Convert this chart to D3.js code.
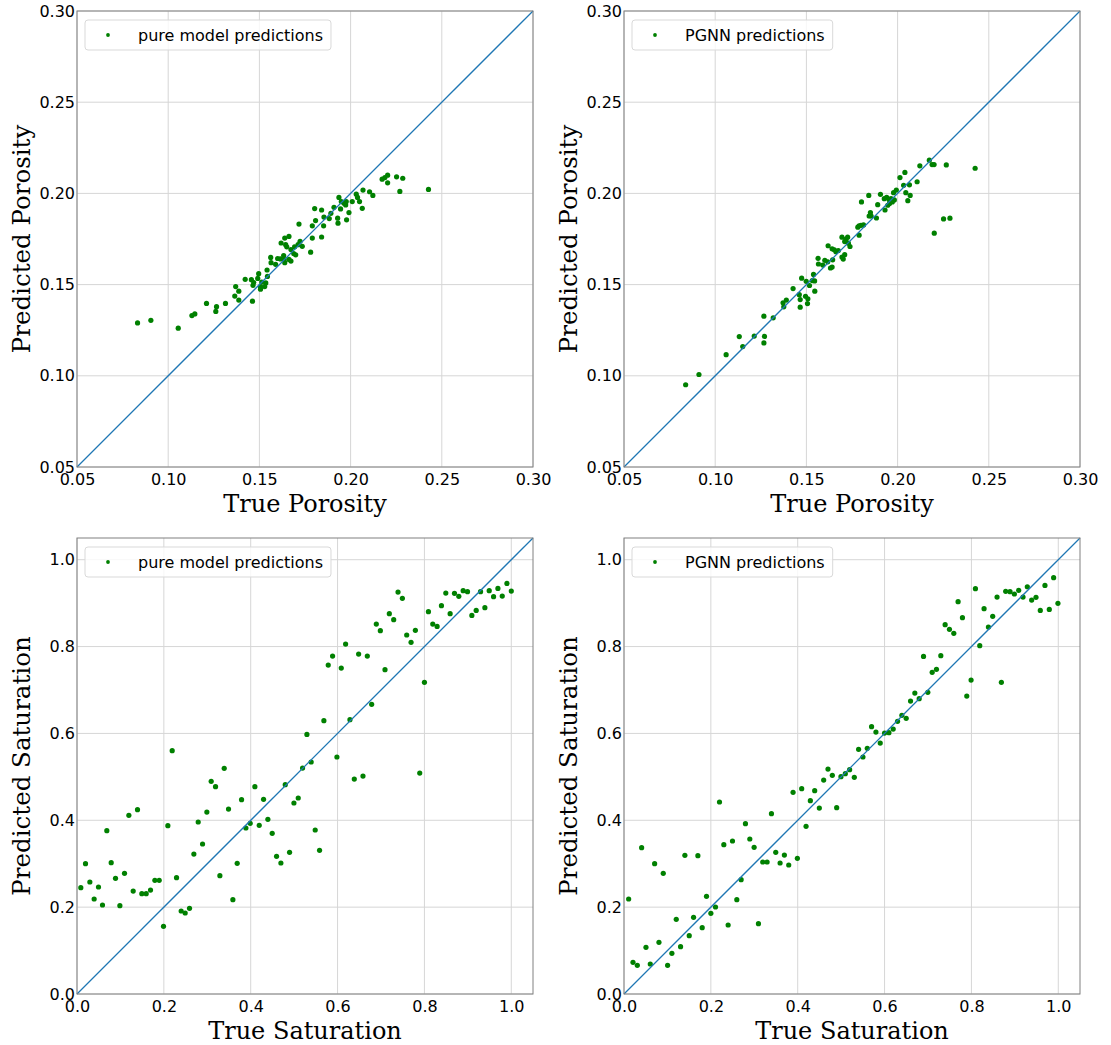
<!DOCTYPE html>
<html>
<head>
<meta charset="utf-8">
<script src="https://cdn.jsdelivr.net/npm/d3@7"></script>
<style>
  html, body { margin: 0; padding: 0; background: #fff; }
  svg { display: block; }
</style>
</head>
<body>
<svg id="chart" width="1111" height="1045"></svg>
<script>
// Porosity: [true, predicted] pairs
const porosityPureModel = [
  [0.0832,0.1290],[0.0905,0.1304],[0.1055,0.1261],[0.1130,0.1330],[0.1146,0.1339],[0.1210,0.1397],
  [0.1265,0.1379],[0.1261,0.1353],[0.1314,0.1397],[0.1370,0.1489],[0.1387,0.1464],[0.1365,0.1437],
  [0.1387,0.1415],[0.1422,0.1529],[0.1462,0.1409],[0.1456,0.1527],[0.1469,0.1511],[0.1465,0.1496],
  [0.1496,0.1560],[0.1491,0.1534],[0.1513,0.1514],[0.1535,0.1509],[0.1506,0.1489],[0.1506,0.1475],
  [0.1529,0.1489],[0.1542,0.1580],[0.1544,0.1545],[0.1562,0.1649],[0.1564,0.1620],[0.1589,0.1611],
  [0.1600,0.1643],[0.1615,0.1641],[0.1633,0.1659],[0.1635,0.1638],[0.1639,0.1620],[0.1619,0.1728],
  [0.1639,0.1755],[0.1662,0.1764],[0.1644,0.1719],[0.1650,0.1707],[0.1673,0.1692],[0.1673,0.1629],
  [0.1688,0.1670],[0.1699,0.1663],[0.1693,0.1707],[0.1712,0.1719],[0.1723,0.1737],[0.1735,0.1710],
  [0.1717,0.1832],[0.1781,0.1678],[0.1790,0.1755],[0.1790,0.1822],[0.1808,0.1851],[0.1803,0.1917],
  [0.1841,0.1909],[0.1841,0.1761],[0.1852,0.1822],[0.1854,0.1870],[0.1883,0.1862],[0.1892,0.1891],
  [0.1909,0.1924],[0.1929,0.1864],[0.1931,0.1837],[0.1936,0.1978],[0.1945,0.1915],[0.1949,0.1955],
  [0.1964,0.1946],[0.1973,0.1937],[0.1976,0.1955],[0.1991,0.1895],[0.1978,0.1855],[0.2009,0.1955],
  [0.2031,0.1996],[0.2038,0.1978],[0.2049,0.1955],[0.2068,0.2018],[0.2064,0.1918],[0.2104,0.2009],
  [0.2122,0.1989],[0.2173,0.2078],[0.2188,0.2087],[0.2203,0.2100],[0.2203,0.2058],[0.2252,0.2091],
  [0.2286,0.2083],[0.2270,0.2011],[0.2427,0.2022],[0.1662,0.1638]
];

const porosityPGNN = [
  [0.0838,0.0951],[0.0911,0.1007],[0.1060,0.1116],[0.1132,0.1215],[0.1151,0.1160],[0.1214,0.1218],
  [0.1267,0.1327],[0.1270,0.1216],[0.1267,0.1180],[0.1318,0.1318],[0.1372,0.1400],[0.1376,0.1378],
  [0.1390,0.1415],[0.1427,0.1478],[0.1461,0.1445],[0.1466,0.1418],[0.1466,0.1376],[0.1474,0.1535],
  [0.1499,0.1518],[0.1495,0.1436],[0.1508,0.1422],[0.1506,0.1396],[0.1517,0.1495],[0.1532,0.1522],
  [0.1539,0.1556],[0.1546,0.1464],[0.1545,0.1520],[0.1564,0.1644],[0.1566,0.1613],[0.1590,0.1607],
  [0.1601,0.1633],[0.1617,0.1625],[0.1619,0.1713],[0.1632,0.1591],[0.1641,0.1596],[0.1644,0.1636],
  [0.1641,0.1696],[0.1653,0.1691],[0.1662,0.1680],[0.1675,0.1687],[0.1695,0.1760],[0.1695,0.1651],
  [0.1702,0.1640],[0.1710,0.1664],[0.1710,0.1736],[0.1717,0.1749],[0.1726,0.1760],[0.1730,0.1727],
  [0.1739,0.1709],[0.1782,0.1815],[0.1789,0.1822],[0.1799,0.1825],[0.1813,0.1827],[0.1789,0.1771],
  [0.1802,0.1953],[0.1842,0.1989],[0.1844,0.1876],[0.1851,0.1895],[0.1855,0.1876],[0.1884,0.1865],
  [0.1891,0.1938],[0.1906,0.1995],[0.1927,0.1971],[0.1931,0.1909],[0.1940,0.1978],[0.1953,0.1967],
  [0.1946,0.1935],[0.1956,0.1945],[0.1964,0.1971],[0.1971,0.1953],[0.1978,0.2004],[0.1982,0.1964],
  [0.1993,0.2018],[0.2013,0.2087],[0.2033,0.2044],[0.2040,0.2115],[0.2045,0.2004],[0.2056,0.1960],
  [0.2065,0.2047],[0.2069,0.1989],[0.2107,0.2064],[0.2122,0.2151],[0.2174,0.2182],[0.2189,0.2158],
  [0.2200,0.2158],[0.2267,0.2156],[0.2201,0.1782],[0.2252,0.1860],[0.2287,0.1864],[0.2425,0.2138]
];

// Saturation: [true, predicted] pairs
const saturationPureModel = [
  [0.0088,0.2448],[0.0196,0.3001],[0.0296,0.2579],[0.0395,0.2187],[0.0495,0.2464],[0.0587,0.2049],
  [0.0687,0.3761],[0.0787,0.3024],[0.0887,0.2663],[0.0987,0.2034],[0.1094,0.2778],[0.1194,0.4114],
  [0.1294,0.2371],[0.1393,0.4244],[0.1493,0.2310],[0.1593,0.2310],[0.1693,0.2394],[0.1793,0.2617],
  [0.1893,0.2617],[0.1992,0.1558],[0.2092,0.3876],[0.2192,0.5602],[0.2292,0.2678],[0.2399,0.1911],
  [0.2491,0.1865],[0.2591,0.1972],[0.2691,0.3223],[0.2791,0.3960],[0.2891,0.3454],[0.2990,0.4190],
  [0.3090,0.4896],[0.3190,0.4774],[0.3290,0.2724],[0.3390,0.5196],[0.3489,0.4259],[0.3589,0.2172],
  [0.3689,0.3008],[0.3789,0.4474],[0.3889,0.3822],[0.3988,0.3929],[0.4096,0.4774],[0.4196,0.3883],
  [0.4296,0.4482],[0.4395,0.4022],[0.4495,0.3699],[0.4595,0.3170],[0.4695,0.3016],[0.4795,0.4820],
  [0.4895,0.3262],[0.4995,0.4398],[0.5094,0.4513],[0.5194,0.5203],[0.5294,0.5978],[0.5392,0.5342],
  [0.5485,0.3776],[0.5585,0.3308],[0.5685,0.6293],[0.5785,0.7575],[0.5885,0.7782],[0.5985,0.5457],
  [0.6085,0.7506],[0.6185,0.8058],[0.6285,0.6316],[0.6385,0.4950],[0.6485,0.7828],[0.6585,0.5019],
  [0.6685,0.7782],[0.6785,0.6669],[0.6892,0.8519],[0.6985,0.8365],[0.7092,0.7467],[0.7192,0.8757],
  [0.7292,0.8619],[0.7392,0.9256],[0.7492,0.9110],[0.7592,0.8266],[0.7692,0.8097],[0.7792,0.8373],
  [0.7892,0.5088],[0.8000,0.7176],[0.8092,0.8803],[0.8192,0.8519],[0.8292,0.8465],[0.8392,0.8941],
  [0.8492,0.9232],[0.8592,0.8757],[0.8692,0.9225],[0.8792,0.9156],[0.8892,0.9286],[0.8992,0.9263],
  [0.9092,0.8718],[0.9192,0.8833],[0.9292,0.9263],[0.9392,0.8895],[0.9492,0.9286],[0.9592,0.9148],
  [0.9692,0.9340],[0.9792,0.9163],[0.9900,0.9455],[1.0000,0.9279]
];

const saturationPGNN = [
  [0.0107,0.2187],[0.0207,0.0729],[0.0307,0.0660],[0.0406,0.3369],[0.0506,0.1074],[0.0605,0.0691],
  [0.0705,0.3001],[0.0805,0.1190],[0.0904,0.2778],[0.1004,0.0660],[0.1103,0.0936],[0.1203,0.1719],
  [0.1303,0.1090],[0.1402,0.3193],[0.1502,0.1343],[0.1602,0.1765],[0.1701,0.3185],[0.1801,0.1527],
  [0.1900,0.2249],[0.2000,0.1857],[0.2107,0.2003],[0.2199,0.4421],[0.2299,0.3438],[0.2398,0.1589],
  [0.2498,0.3523],[0.2598,0.2172],[0.2697,0.2632],[0.2797,0.3922],[0.2897,0.3569],[0.2996,0.3377],
  [0.3096,0.1619],[0.3195,0.3039],[0.3295,0.3039],[0.3395,0.4152],[0.3494,0.3262],[0.3594,0.3016],
  [0.3693,0.3200],[0.3793,0.2970],[0.3893,0.4643],[0.3992,0.3124],[0.4092,0.4728],[0.4192,0.3860],
  [0.4291,0.4451],[0.4391,0.4681],[0.4498,0.4282],[0.4598,0.4927],[0.4697,0.5180],[0.4797,0.5035],
  [0.4897,0.4290],[0.4996,0.5004],[0.5096,0.5073],[0.5195,0.5165],[0.5303,0.4989],[0.5402,0.5633],
  [0.5502,0.5457],[0.5602,0.5656],[0.5701,0.6155],[0.5801,0.6032],[0.5900,0.5779],[0.6000,0.6009],
  [0.6100,0.6017],[0.6199,0.6101],[0.6299,0.6278],[0.6398,0.6416],[0.6498,0.6347],[0.6598,0.6746],
  [0.6697,0.6930],[0.6797,0.6800],[0.6897,0.7774],[0.6996,0.6946],[0.7096,0.7406],[0.7195,0.7475],
  [0.7295,0.7790],[0.7395,0.8504],[0.7494,0.8396],[0.7594,0.8304],[0.7693,0.9033],[0.7793,0.8665],
  [0.7893,0.6861],[0.7992,0.7229],[0.8092,0.9332],[0.8192,0.8020],[0.8291,0.8872],[0.8391,0.8450],
  [0.8490,0.8696],[0.8590,0.9140],[0.8690,0.7176],[0.8789,0.9271],[0.8889,0.9263],[0.8989,0.9210],
  [0.9088,0.9294],[0.9188,0.9140],[0.9287,0.9378],[0.9387,0.9071],[0.9487,0.9133],[0.9586,0.8833],
  [0.9693,0.9409],[0.9793,0.8856],[0.9893,0.9586],[0.9992,0.8995]
];

// Axis ranges and tick values
const porosityDomain = [0.05, 0.30];
const porosityTicks = [0.05, 0.10, 0.15, 0.20, 0.25, 0.30];
const saturationDomain = [0, 1.05];
const saturationTicks = [0.0, 0.2, 0.4, 0.6, 0.8, 1.0];

const legendLabels = ["pure model predictions", "PGNN predictions"];
const axisTitles = {
  porosity: ["True Porosity", "Predicted Porosity"],
  saturation: ["True Saturation", "Predicted Saturation"]
};

const SIZE = 456;
const panels = [
  { left: 77,  top: 11,  data: porosityPureModel,   domain: porosityDomain,   ticks: porosityTicks,   fmt: d3.format(".2f"), titles: axisTitles.porosity,   legend: legendLabels[0] },
  { left: 624, top: 11,  data: porosityPGNN,        domain: porosityDomain,   ticks: porosityTicks,   fmt: d3.format(".2f"), titles: axisTitles.porosity,   legend: legendLabels[1] },
  { left: 77,  top: 538, data: saturationPureModel, domain: saturationDomain, ticks: saturationTicks, fmt: d3.format(".1f"), titles: axisTitles.saturation, legend: legendLabels[0] },
  { left: 624, top: 538, data: saturationPGNN,      domain: saturationDomain, ticks: saturationTicks, fmt: d3.format(".1f"), titles: axisTitles.saturation, legend: legendLabels[1] }
];

const svg = d3.select("#chart");
const TICK_FONT = "'DejaVu Sans', sans-serif";
const TITLE_FONT = "'DejaVu Serif', serif";

panels.forEach(p => {
  const x = d3.scaleLinear().domain(p.domain).range([0, SIZE]);
  const y = d3.scaleLinear().domain(p.domain).range([SIZE, 0]);
  const g = svg.append("g").attr("transform", `translate(${p.left},${p.top})`);

  // grid
  g.append("g").selectAll("line").data(p.ticks).join("line")
    .attr("x1", d => x(d)).attr("x2", d => x(d))
    .attr("y1", 0).attr("y2", SIZE)
    .attr("stroke", "#d6d6d6").attr("stroke-width", 1);
  g.append("g").selectAll("line").data(p.ticks).join("line")
    .attr("y1", d => y(d)).attr("y2", d => y(d))
    .attr("x1", 0).attr("x2", SIZE)
    .attr("stroke", "#d6d6d6").attr("stroke-width", 1);

  // points
  g.append("g").selectAll("circle").data(p.data).join("circle")
    .attr("cx", d => x(d[0])).attr("cy", d => y(d[1]))
    .attr("r", 2.6).attr("fill", "#008000");

  // identity line
  g.append("line")
    .attr("x1", x(p.domain[0])).attr("y1", y(p.domain[0]))
    .attr("x2", x(p.domain[1])).attr("y2", y(p.domain[1]))
    .attr("stroke", "#1f77b4").attr("stroke-width", 1.25);

  // frame
  g.append("rect").attr("x", 0).attr("y", 0).attr("width", SIZE).attr("height", SIZE)
    .attr("fill", "none").attr("stroke", "#808080").attr("stroke-width", 1);

  // axes (labels only, no tick marks)
  const xAxis = d3.axisBottom(x).tickValues(p.ticks).tickFormat(p.fmt).tickSize(0).tickPadding(7);
  const yAxis = d3.axisLeft(y).tickValues(p.ticks).tickFormat(p.fmt).tickSize(0).tickPadding(2);
  const gx = g.append("g").attr("transform", `translate(0,${SIZE})`).call(xAxis);
  const gy = g.append("g").call(yAxis);
  [gx, gy].forEach(a => {
    a.select(".domain").remove();
    a.selectAll("text").attr("font-family", TICK_FONT).attr("font-size", 16).attr("fill", "#000");
  });

  // axis titles
  g.append("text")
    .attr("x", SIZE / 2).attr("y", SIZE + 45)
    .attr("text-anchor", "middle")
    .attr("font-family", TITLE_FONT).attr("font-size", 24)
    .text(p.titles[0]);
  g.append("text")
    .attr("transform", `translate(${-47},${SIZE / 2}) rotate(-90)`)
    .attr("text-anchor", "middle")
    .attr("font-family", TITLE_FONT).attr("font-size", 24.5)
    .text(p.titles[1]);

  // legend
  const lg = g.append("g").attr("transform", "translate(8,9)");
  const lt = lg.append("text")
    .attr("x", 53).attr("y", 21)
    .attr("font-family", TICK_FONT).attr("font-size", 16)
    .text(p.legend);
  const tw = lt.node().getComputedTextLength();
  lg.insert("rect", "text")
    .attr("x", 0).attr("y", 0).attr("width", 53 + tw + 8).attr("height", 30)
    .attr("rx", 3).attr("fill", "#fff").attr("fill-opacity", 0.8)
    .attr("stroke", "#d9d9d9").attr("stroke-width", 1);
  lg.append("circle").attr("cx", 23).attr("cy", 15).attr("r", 1.9).attr("fill", "#008000");
});
</script>
</body>
</html>
